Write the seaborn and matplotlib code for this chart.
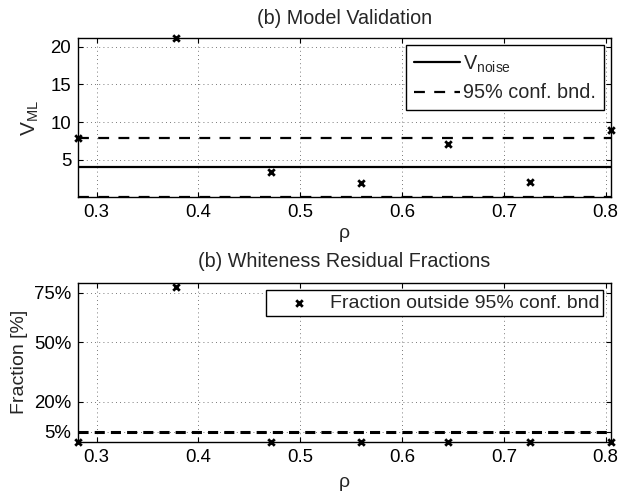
import pandas as pd
import seaborn as sns
import matplotlib.pyplot as plt

# values
rho = [0.282, 0.378, 0.471, 0.560, 0.645, 0.726, 0.805]
v_ml = [7.95, 21.1, 3.35, 1.98, 7.12, 2.04, 9.03]
frac_outside = [0.0, 0.778, 0.0, 0.0, 0.0, 0.0, 0.0]
v_noise = 4.05
conf_hi = 7.95
conf_lo = 0.14
frac_limit = 0.05
frac_ticks = [0.05, 0.20, 0.50, 0.75]
frac_labels = ["5%", "20%", "50%", "75%"]
rho_ticks = [0.3, 0.4, 0.5, 0.6, 0.7, 0.8]

sns.set_style("ticks")
plt.rcParams["font.family"] = ["Liberation Sans", "DejaVu Sans"]
plt.rcParams["mathtext.fontset"] = "custom"
plt.rcParams["mathtext.rm"] = "Liberation Sans"
plt.rcParams["mathtext.it"] = "Liberation Sans"

df = pd.DataFrame({"rho": rho, "v_ml": v_ml, "frac": frac_outside})

fig = plt.figure(figsize=(6.31, 4.94), dpi=100)
ax1 = fig.add_axes([0.1241, 0.6018, 0.8437, 0.3206])
ax2 = fig.add_axes([0.1241, 0.1059, 0.8437, 0.3219])


def matlab_axes(ax):
    ax.grid(True, color="black", linestyle=(0, (1, 4)), linewidth=0.6, alpha=0.7)
    ax.tick_params(direction="in", length=3.5, width=0.8, top=True, right=True,
                   labelsize=13.4, colors="black", pad=5)
    for s in ax.spines.values():
        s.set_visible(True)
        s.set_linewidth(1.0)
        s.set_color("black")
    ax.set_axisbelow(True)


# top panel
matlab_axes(ax1)
ax1.axhline(v_noise, color="black", lw=1.6, label=r"$\mathregular{V_{noise}}$")
ax1.axhline(conf_hi, color="black", lw=1.6, ls=(0, (4.9, 4.2)), label="95% conf. bnd.")
ax1.axhline(conf_lo, color="black", lw=1.6, ls=(0, (4.9, 4.2)))
sns.scatterplot(data=df, x="rho", y="v_ml", ax=ax1, marker="x", color="black",
                s=22, linewidth=2.0, clip_on=False, zorder=5, legend=False)
ax1.set_xlim(rho[0], rho[-1])
ax1.set_ylim(conf_lo, max(v_ml))
ax1.set_yticks([5, 10, 15, 20])
ax1.set_xticks(rho_ticks)
ax1.set_xlabel("ρ", fontsize=14, labelpad=3)
ax1.set_ylabel(r"$\mathregular{V_{ML}}$", fontsize=15, labelpad=7)
ax1.set_title("(b) Model Validation", fontsize=14.2, pad=10)
ax1.legend(loc="upper right", frameon=True, fancybox=False, edgecolor="black",
           framealpha=1, handlelength=2.3, fontsize=14.3, borderaxespad=0.35,
           labelspacing=0.45, handletextpad=0.15, borderpad=0.4)

# bottom panel
matlab_axes(ax2)
ax2.axhline(frac_limit, color="black", lw=2.2, ls=(0, (3.3, 2.0)))
sns.scatterplot(data=df, x="rho", y="frac", ax=ax2, marker="x", color="black",
                s=22, linewidth=2.0, clip_on=False, zorder=5,
                label="Fraction outside 95% conf. bnd")
ax2.set_xlim(rho[0], rho[-1])
ax2.set_ylim(0, 0.8)
ax2.set_yticks(frac_ticks)
ax2.set_yticklabels(frac_labels)
ax2.set_xticks(rho_ticks)
ax2.set_xlabel("ρ", fontsize=14, labelpad=6)
ax2.set_ylabel("Fraction [%]", fontsize=14, labelpad=4)
ax2.set_title("(b) Whiteness Residual Fractions", fontsize=14.2, pad=11)
ax2.legend(loc="upper right", frameon=True, fancybox=False, edgecolor="black",
           framealpha=1, fontsize=14, borderaxespad=0.4, handlelength=3.0,
           handletextpad=0.05, borderpad=0.2)

fig.savefig("out.png", dpi=100)
